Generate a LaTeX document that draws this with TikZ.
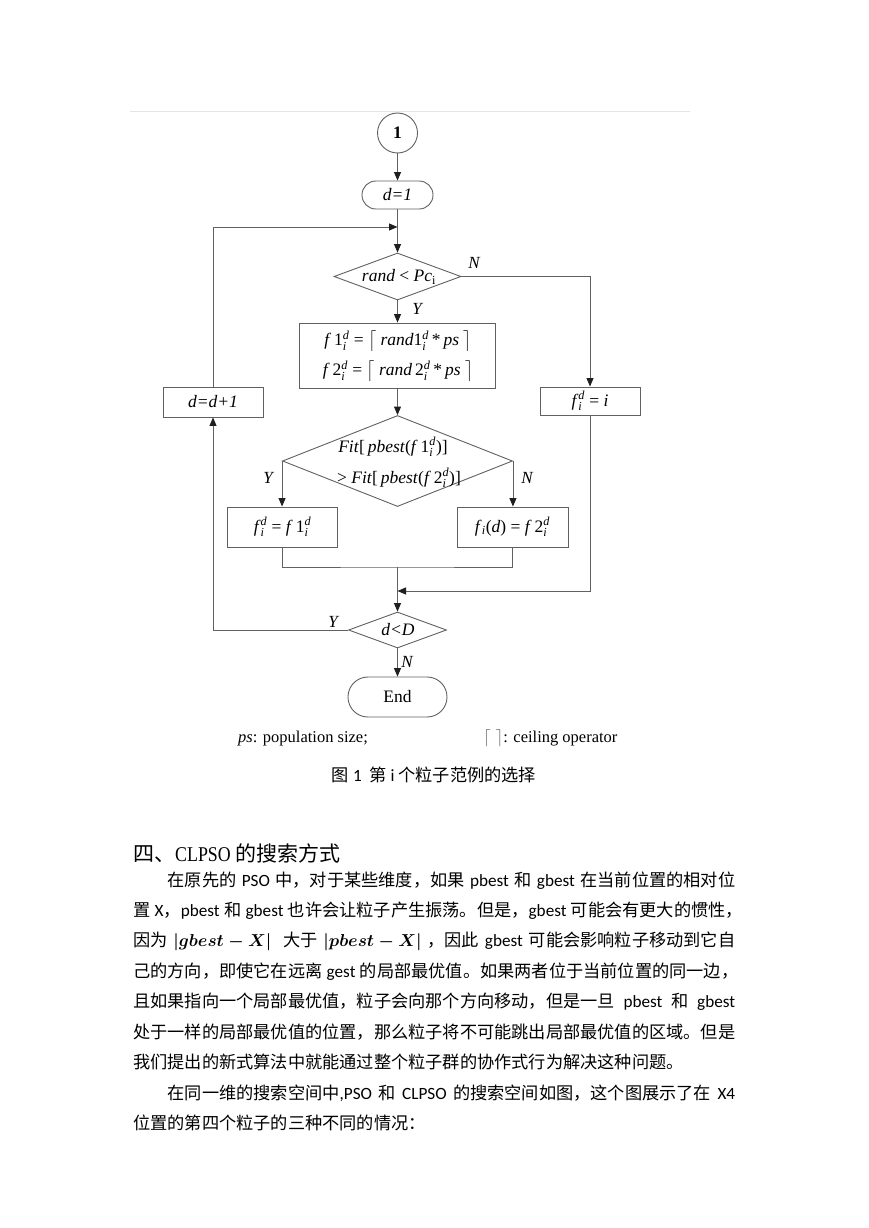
\documentclass[tikz,border=0pt]{standalone}
\usepackage{amsmath}
\usepackage{graphicx}
\usepackage{fontspec}
\usetikzlibrary{shapes.geometric,arrows.meta}
\setmainfont{Liberation Serif}
\newfontfamily\zhfont{Noto Sans CJK SC}
\newfontfamily\latfont{Carlito}
\newcommand\zh[1]{{\zhfont #1}}
\newcommand\gap{\hskip 0.25em plus 1fil\relax}
\newcommand\sx[2]{\ensuremath{^{\text{\itshape #1}}_{\text{\itshape #2}}}}
\newcommand\bodyfont{\latfont\fontsize{17.2}{20}\selectfont}
\newcommand\bigmath[1]{{\fontsize{18.8}{20}\selectfont$\boldsymbol{#1}$}}
\tikzset{
  ln/.style={draw=black!62, line width=0.9pt},
  arr/.style={ln, -{Triangle[length=8.5pt,width=7pt,color=black!88]}},
  fbox/.style={draw=black!62, line width=0.9pt, rectangle, inner sep=0pt},
  dbox/.style={draw=black!62, line width=0.9pt, diamond, inner sep=0pt},
  txt/.style={inner sep=0pt},
  lab/.style={inner sep=0pt, font=\fontsize{17}{20}\selectfont\itshape},
  line/.style={anchor=base west, inner sep=0pt, font=\bodyfont},
}
\begin{document}
\begin{tikzpicture}[x=1pt,y=-1pt,font=\fontsize{17.5}{21}\selectfont]
\fill[white] (0,0) rectangle (869,1228);
\useasboundingbox (0,0) rectangle (869,1228);
\draw[black!10, line width=0.8pt] (130,111) -- (690,111);

% ---- flowchart nodes ----
\node[circle, draw=black!62, line width=0.9pt, minimum size=40pt, inner sep=0pt] (c1) at (397.5,133) {\textbf{1}};
\node[fbox, minimum width=71pt, minimum height=28pt, rounded corners=13.9pt] (d1) at (397.5,195) {\textit{d=1}};
\coordinate (j1) at (397.5,227);
\node[dbox, minimum width=127pt, minimum height=47pt] (dia1) at (397.5,276.5) {};
\node[txt] (t1) at (399,277) {\textit{rand} < \textit{Pc}\ensuremath{_{\text{i}}}};
\node[fbox, minimum width=196pt, minimum height=65pt] (b1) at (397.5,355.5) {};
\node[txt] (b1a) at (398,341) {\textit{f}\,1\sx{d}{i} = $\bigl\lceil$ \textit{rand}1\sx{d}{i}\,*\,\textit{ps} $\bigr\rceil$};
\node[txt] (b1b) at (398,371) {\textit{f}\,2\sx{d}{i} = $\bigl\lceil$ \textit{rand}\,2\sx{d}{i}\,*\,\textit{ps} $\bigr\rceil$};
\node[dbox, minimum width=230pt, minimum height=91pt] (dia2) at (397.5,461) {};
\node[txt] (t2a) at (393,447) {\textit{Fit}[\,\textit{pbest}(\textit{f}\,1\sx{d}{i})]};
\node[txt] (t2b) at (399,478) {> \textit{Fit}[\,\textit{pbest}(\textit{f}\,2\sx{d}{i})]};
\node[fbox, minimum width=110pt, minimum height=40pt] (bL) at (282.5,527) {\textit{f}\sx{d}{i} = \textit{f}\,1\sx{d}{i}};
\node[fbox, minimum width=111pt, minimum height=40pt] (bR) at (512.5,527) {\textit{f}\ensuremath{_{\text{\itshape i}}}(\textit{d}) = \textit{f}\,2\sx{d}{i}};
\node[fbox, minimum width=100pt, minimum height=28pt] (bI) at (590,401) {\textit{f}\sx{d}{i} = \textit{i}};
\node[fbox, minimum width=100pt, minimum height=30pt] (bD) at (213,402) {\textit{d=d+1}};
\coordinate (join) at (397.5,567);
\coordinate (j2) at (397.5,591);
\node[dbox, minimum width=98pt, minimum height=36pt] (dia3) at (397.5,630) {};
\node[txt] (t3) at (398,630) {\textit{d<D}};
\node[fbox, minimum width=99pt, minimum height=40pt, rounded corners=19.9pt] (end) at (397.5,697) {End};

% labels
\node[lab] (yl1) at (417,309) {Y};
\node[lab] (nl1) at (474,263) {N};
\node[lab] (yl2) at (268,478) {Y};
\node[lab] (nl2) at (527,478) {N};
\node[lab] (yl3) at (333,622) {Y};
\node[lab] (nl3) at (407,662) {N};

% ---- connectors ----
\draw[arr] (c1) -- (d1);
\draw[arr] (d1) -- (dia1);
\draw[arr] (bD.north) |- (j1);
\draw[arr] (dia1) -- (b1);
\draw[arr] (dia1.east) -| (bI.north);
\draw[arr] (b1) -- (dia2);
\draw[arr] (dia2.west) -- (dia2.west |- bL.north);
\draw[arr] (dia2.east) -- (dia2.east |- bR.north);
\draw[ln] (bL.south) |- (join) -| (bR.south);
\draw[arr] (join) -- (dia3.north);
\draw[arr] (bI.south) |- (j2);
\draw[arr] (dia3.west) -| (bD.south);
\draw[arr] (dia3.south) -- (end.north);

% legend
\node[txt, anchor=base west, font=\fontsize{16.5}{20}\selectfont] (lg1) at (238,742) {\textit{ps}: population size;};
\node[txt, anchor=base west, font=\fontsize{16.5}{20}\selectfont] (lg2) at (483,742) {{\color{black!60}$\lceil\;\rceil$}: ceiling operator};

% caption
\node[txt, anchor=base, font=\bodyfont] (cap) at (434,781.5) {\zh{图}\ 1\ \ \zh{第}\ i\ \zh{个粒子范例的选择}};

% heading
\node[txt, anchor=base west] (head) at (133,861) {\fontsize{21}{24}\selectfont\zh{四、}\scalebox{0.85}[1]{CLPSO}\hskip 5pt\zh{的搜索方式}};

% body
\node[line] (L1) at (133,886.5) {\hbox to 602pt{\hskip 34.4pt\zh{在原先的}\gap PSO\gap\zh{中，对于某些维度，如果}\gap pbest\gap\zh{和}\gap gbest\gap\zh{在当前位置的相对位}}};
\node[line] (L2) at (133,916.5) {\hbox to 602pt{\zh{置}\gap X\zh{，}pbest\gap\zh{和}\gap gbest\gap\zh{也许会让粒子产生振荡。但是，}gbest\gap\zh{可能会有更大的惯性，}}};
\node[line] (L3) at (133,946.5) {\hbox to 602pt{\zh{因为}\gap\bigmath{|gbest-X|}\gap\gap\zh{大于}\gap\bigmath{|pbest-X|}\gap\zh{，因此}\gap gbest\gap\zh{可能会影响粒子移动到它自}}};
\node[line] (L4) at (133,977) {\hbox to 602pt{\zh{己的方向，即使它在远离}\gap gest\gap\zh{的局部最优值。如果两者位于当前位置的同一边，}}};
\node[line] (L5) at (133,1007.5) {\hbox to 602pt{\zh{且如果指向一个局部最优值，粒子会向那个方向移动，但是一旦}\gap pbest\gap\zh{和}\gap gbest}};
\node[line] (L6) at (133,1038) {\hbox to 602pt{\zh{处于一样的局部最优值的位置，那么粒子将不可能跳出局部最优值的区域。但是}\hfil}};
\node[line] (L7) at (133,1068.5) {\zh{我们提出的新式算法中就能通过整个粒子群的协作式行为解决这种问题。}};
\node[line] (L8) at (133,1099) {\hbox to 602pt{\hskip 34.4pt\zh{在同一维的搜索空间中},PSO\gap\zh{和}\gap CLPSO\gap\zh{的搜索空间如图，这个图展示了在}\gap X4}};
\node[line] (L9) at (133,1129.5) {\zh{位置的第四个粒子的三种不同的情况：}};
\end{tikzpicture}
\end{document}
